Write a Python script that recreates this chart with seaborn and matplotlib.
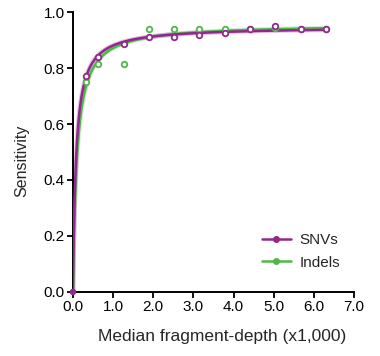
import numpy as np
import pandas as pd
import matplotlib
matplotlib.use("Agg")
import matplotlib.pyplot as plt
from matplotlib.lines import Line2D
import seaborn as sns

# Median fragment depth (thousands) and measured sensitivity per variant class
depth = [0.0, 0.315, 0.63, 1.26, 1.89, 2.52, 3.15, 3.78, 4.41, 5.04, 5.67, 6.30]
snv_sens = [0.0, 0.771, 0.840, 0.885, 0.910, 0.910, 0.917, 0.924, 0.941, 0.950, 0.940, 0.940]
indel_sens = [0.0, 0.751, 0.813, 0.813, 0.939, 0.939, 0.939, 0.939, 0.940, 0.943, 0.940, 0.940]

series_names = ["SNVs", "Indels"]
series_colors = {"SNVs": "#93278F", "Indels": "#4DB848"}
x_ticks = [0, 1, 2, 3, 4, 5, 6, 7]
y_ticks = [0.0, 0.2, 0.4, 0.6, 0.8, 1.0]

sns.set_style("ticks")
plt.rcParams["font.family"] = ["Liberation Sans", "DejaVu Sans"]


def fit_hyperbola(x, y):
    """Least-squares fit of y = vmax * x / (k + x); returns (vmax, k)."""
    x = np.asarray(x, float)
    y = np.asarray(y, float)
    best = None
    for k in np.linspace(0.005, 1.0, 2000):
        g = x / (k + x)
        vmax = (g @ y) / (g @ g)
        err = np.sum((vmax * g - y) ** 2)
        if best is None or err < best[0]:
            best = (err, vmax, k)
    return best[1], best[2]


points = pd.DataFrame({
    "depth": depth * 2,
    "sensitivity": snv_sens + indel_sens,
    "type": ["SNVs"] * len(depth) + ["Indels"] * len(depth),
})

xs = np.concatenate([np.linspace(0, 0.05, 60), np.linspace(0.05, 6.3, 500)])
curves = []
for name, ys in (("SNVs", snv_sens), ("Indels", indel_sens)):
    vmax, k = fit_hyperbola(depth, ys)
    curves.append(pd.DataFrame({"depth": xs, "fit": vmax * xs / (k + xs), "type": name}))
curves = pd.concat(curves, ignore_index=True)

fig = plt.figure(figsize=(3.8, 3.56), dpi=100)
ax = fig.add_axes([0.192, 0.180, 0.740, 0.786])

# Fitted curves: a soft halo under a solid line, Indels beneath SNVs
for name in ["Indels", "SNVs"]:
    sub = curves[curves["type"] == name]
    sns.lineplot(data=sub, x="depth", y="fit", ax=ax, color=series_colors[name],
                 lw=3.4, alpha=0.25, legend=False, zorder=2)
    sns.lineplot(data=sub, x="depth", y="fit", ax=ax, color=series_colors[name],
                 lw=1.8, legend=False, zorder=3)

# Measured points as open circles
for name in ["Indels", "SNVs"]:
    sub = points[(points["type"] == name) & (points["depth"] > 0)]
    ax.scatter(sub["depth"], sub["sensitivity"], s=16, facecolors="white",
               edgecolors=series_colors[name], linewidths=1.3, zorder=4)
origin = points[(points["type"] == "SNVs") & (points["depth"] == 0)]
sns.scatterplot(data=origin, x="depth", y="sensitivity", ax=ax, color=series_colors["SNVs"],
                s=22, edgecolor="none", legend=False, zorder=5, clip_on=False)

ax.set_xlim(0, 7)
ax.set_ylim(0, 1.0)
ax.set_xticks(x_ticks)
ax.set_xticklabels([f"{t:.1f}" for t in x_ticks])
ax.set_yticks(y_ticks)
ax.set_yticklabels([f"{t:.1f}" for t in y_ticks])
ax.tick_params(axis="both", labelsize=11, length=4, width=1.3, colors="black", pad=2)
for side in ["left", "bottom"]:
    ax.spines[side].set_linewidth(1.4)
    ax.spines[side].set_color("black")
sns.despine(ax=ax)

ax.set_xlabel("Median fragment-depth (x1,000)", fontsize=12.5)
ax.xaxis.set_label_coords(0.53, -0.133)
ax.set_ylabel("Sensitivity", fontsize=11.5)
ax.yaxis.set_label_coords(-0.155, 0.47)

handles = [Line2D([0], [0], color=series_colors[n], lw=1.8, marker="o", markersize=4)
           for n in series_names]
ax.legend(handles, series_names, loc="lower right", bbox_to_anchor=(1.0, 0.03),
          frameon=False, fontsize=11, handlelength=1.9, handletextpad=0.6,
          labelspacing=0.55)

fig.savefig("out.png", dpi=100)
